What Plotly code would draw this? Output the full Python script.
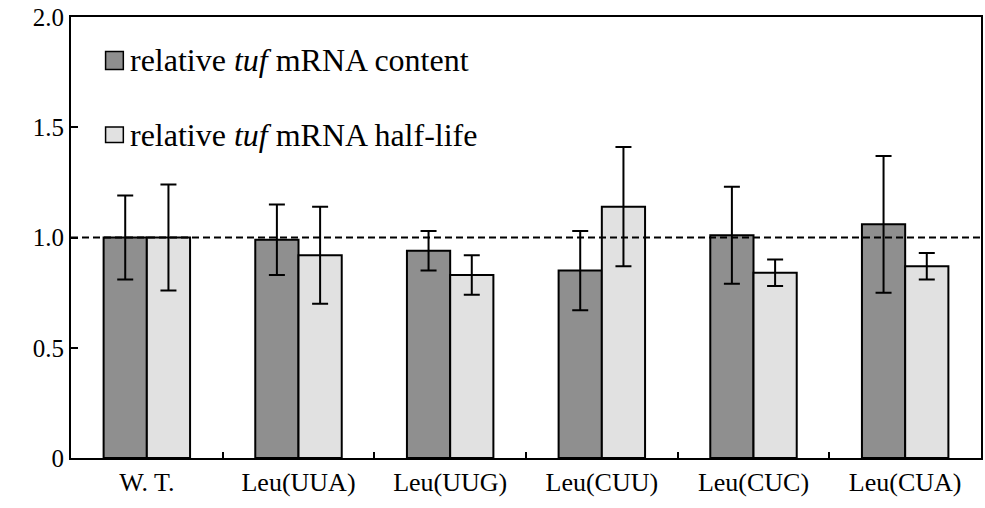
import plotly.graph_objects as go

categories = ["W. T.", "Leu(UUA)", "Leu(UUG)", "Leu(CUU)", "Leu(CUC)", "Leu(CUA)"]
content = [1.00, 0.99, 0.94, 0.85, 1.01, 1.06]
content_err_plus = [0.19, 0.16, 0.09, 0.18, 0.22, 0.31]
content_err_minus = [0.19, 0.16, 0.09, 0.18, 0.22, 0.31]
halflife = [1.00, 0.92, 0.83, 1.14, 0.84, 0.87]
halflife_err_plus = [0.24, 0.22, 0.09, 0.27, 0.06, 0.06]
halflife_err_minus = [0.24, 0.22, 0.09, 0.27, 0.06, 0.06]
legend_names = ["relative <i>tuf</i> mRNA content", "relative <i>tuf</i> mRNA half-life"]
ytick_vals = [0, 0.5, 1.0, 1.5, 2.0]
ytick_text = ["0", "0.5", "1.0", "1.5", "2.0"]

FONT = "Liberation Serif"
DARK = "#8f8f8f"
LIGHT = "#e1e1e1"

fig = go.Figure()
for vals, ep, em, col, name in [
    (content, content_err_plus, content_err_minus, DARK, legend_names[0]),
    (halflife, halflife_err_plus, halflife_err_minus, LIGHT, legend_names[1]),
]:
    fig.add_trace(go.Bar(
        x=categories, y=vals, name=name,
        marker=dict(color=col, line=dict(color="black", width=2)),
        error_y=dict(type="data", symmetric=False, array=ep, arrayminus=em,
                     color="black", thickness=2, width=8),
        showlegend=False,
    ))

# reference line at 1.0
fig.add_shape(type="line", xref="paper", yref="y", x0=0, x1=1, y0=1, y1=1,
              line=dict(color="black", width=2, dash="7px,4px"), layer="above")

# custom legend
leg = [(0.922, 0.881, DARK, legend_names[0]), (0.7505, 0.7155, LIGHT, legend_names[1])]
for y1, y0, col, name in leg:
    fig.add_shape(type="rect", xref="paper", yref="paper", x0=0.038, x1=0.0575,
                  y0=y0, y1=y1, fillcolor=col, line=dict(color="black", width=1.5))
    fig.add_annotation(xref="paper", yref="paper", x=0.0625, y=(y0 + y1) / 2,
                       xanchor="left", yanchor="middle", text=name, showarrow=False,
                       font=dict(family=FONT, size=32, color="black"))

fig.update_layout(
    width=985, height=508,
    margin=dict(l=71, r=4, t=17, b=50, autoexpand=False),
    paper_bgcolor="white", plot_bgcolor="white",
    barmode="group", bargap=0.43, bargroupgap=0,
    font=dict(family=FONT, color="black"),
)
fig.update_xaxes(
    showline=True, linecolor="black", linewidth=2, mirror=True,
    ticks="inside", tickson="boundaries", ticklen=6, tickwidth=2, tickcolor="black",
    tickfont=dict(family=FONT, size=26, color="black"), showgrid=False, automargin=False,
)
fig.update_yaxes(
    range=[0, 2.0], tickvals=ytick_vals, ticktext=ytick_text,
    showline=True, linecolor="black", linewidth=2, mirror=True,
    ticks="inside", ticklen=7, tickwidth=2, tickcolor="black",
    tickfont=dict(family=FONT, size=25, color="black"), showgrid=False, zeroline=False,
    automargin=False,
)

fig.write_html(
    "out.html",
    config={"displayModeBar": False},
    post_script="document.body.style.margin='0';document.body.style.overflow='hidden';",
)
